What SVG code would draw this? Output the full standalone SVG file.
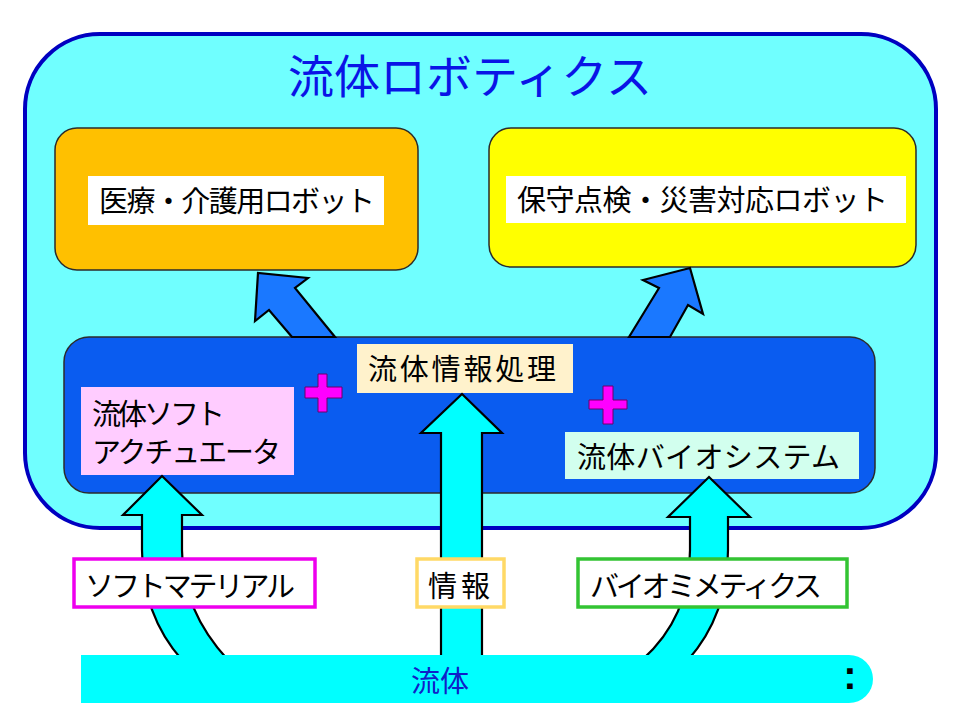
<svg xmlns="http://www.w3.org/2000/svg" width="955" height="716" viewBox="0 0 955 716">
<style>
text{font-family:"Noto Sans CJK JP","Noto Sans",sans-serif;fill:#000}
.lbl{font-size:29px}
.dark{stroke:#2b2b2b;stroke-width:1.5}
.carrow{fill:#00FFFF;stroke:#000;stroke-width:2.2;stroke-linejoin:miter}
.barrow{fill:#1A78FF;stroke:#000;stroke-width:2.2;stroke-linejoin:miter}
.plus{fill:#FF00FF;stroke:#6a006a;stroke-width:1}
.tag{fill:#fff;stroke-width:3.5}
</style>
<rect width="955" height="716" fill="#fff"/>
<g id="robotics">
<rect x="25" y="34" width="911" height="494" rx="75" ry="75" fill="#70FFFF" stroke="#0000C0" stroke-width="4"/>
<text x="470" y="93" text-anchor="middle" font-size="46" style="fill:#0A14E6">流体ロボティクス</text>
</g>
<g id="medical">
<rect x="55" y="128" width="363" height="142" rx="22" fill="#FFC000" class="dark"/>
<rect x="88" y="176" width="296" height="49" fill="#fff"/>
<text class="lbl" x="99" y="212" textLength="276">医療・介護用ロボット</text>
</g>
<g id="maintenance">
<rect x="489" y="128" width="427" height="139" rx="22" fill="#FFFF00" class="dark"/>
<rect x="506" y="176" width="400" height="47" fill="#fff"/>
<text class="lbl" x="517" y="211" textLength="371">保守点検・災害対応ロボット</text>
</g>
<g id="core">
<rect x="64" y="337" width="811" height="156" rx="25" fill="#0A5CF0" class="dark"/>
</g>
<g id="actuator">
<rect x="81" y="387" width="213" height="88" fill="#FFCCFF"/>
<text class="lbl" x="92" y="425" textLength="133">流体ソフト</text>
<text class="lbl" x="92" y="463" textLength="189">アクチュエータ</text>
</g>
<g id="info-processing">
<rect x="357" y="344" width="216" height="49" fill="#FFF2CC"/>
<text class="lbl" x="368" y="380" textLength="188">流体情報処理</text>
</g>
<g id="biosystem">
<rect x="565" y="432" width="294" height="47" fill="#D2FFEE"/>
<text class="lbl" x="577" y="468" textLength="263">流体バイオシステム</text>
</g>
<g id="plus1"><path class="plus" d="M318,374 H327 V387 H342 V398 H327 V412 H318 V398 H305 V387 H318 Z"/></g>
<g id="plus2"><path class="plus" d="M603,386 H613 V400 H627 V409 H613 V424 H603 V409 H589 V400 H603 Z"/></g>
<g id="connectors">
<path class="barrow" d="M292,337 L269,310 L255,321 L258,273 L308,278 L295,288 L335,337 Z"/>
<path class="barrow" d="M629,337 L659,288 L643,280 L690,268 L703,314 L688,305 L670,337 Z"/>
<path class="carrow" d="M142,515 H123 L162,476 L202,515 H182 V550 C182,600 205,635 228,660 H182 C160,635 142,600 142,550 Z"/>
<path class="carrow" d="M441,433 H421 L462,394 L502,433 H482 V660 H441 Z"/>
<path class="carrow" d="M690,517 H668 L709,477 L750,517 H728 V550 C728,600 710,635 688,660 H642 C670,635 690,600 690,550 Z"/>
</g>
<g id="soft-material">
<rect class="tag" x="74" y="559" width="241" height="48" stroke="#EE00EE"/>
<text class="lbl" x="85" y="597" textLength="210">ソフトマテリアル</text>
</g>
<g id="information">
<rect class="tag" x="417" y="559" width="87" height="48" stroke="#FFD966"/>
<text class="lbl" x="428" y="597" textLength="62">情報</text>
</g>
<g id="biomimetics">
<rect class="tag" x="578" y="559" width="269" height="48" stroke="#33C433"/>
<text class="lbl" x="590" y="597" textLength="232">バイオミメティクス</text>
</g>
<g id="fluid">
<path d="M81,655 H849 A24,24 0 0 1 849,703 H81 Z" fill="#00FFFF"/>
<text x="440" y="692" text-anchor="middle" font-size="29" style="fill:#1020C8">流体</text>
<text x="850" y="689" text-anchor="middle" font-size="40" font-weight="bold" style="font-family:'Liberation Sans',sans-serif">:</text>
</g>
</svg>
